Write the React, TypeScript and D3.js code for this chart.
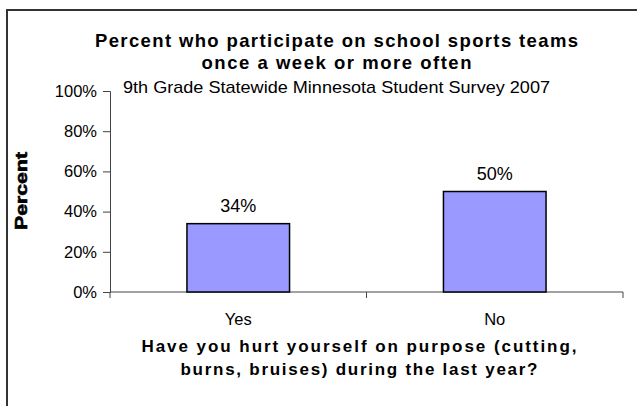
import React, { useRef, useEffect } from 'react';
import * as d3 from 'd3';

const categories = ['Yes', 'No'];
const values = [34, 50];
const valueLabels = ['34%', '50%'];
const yTicks = [0, 20, 40, 60, 80, 100];
const titleLines = ['Percent who participate on school sports teams', 'once a week or more often'];
const subtitle = '9th Grade Statewide Minnesota Student Survey 2007';
const xTitleLines = ['Have you hurt yourself on purpose (cutting,', 'burns, bruises) during the last year?'];
const yTitle = 'Percent';

const W = 637;
const H = 406;
const FONT = '"Liberation Sans", Arial, sans-serif';

export default function App() {
  const svgRef = useRef<SVGSVGElement>(null);

  useEffect(() => {
    const svg = d3.select(svgRef.current);
    svg.selectAll('*').remove();

    const left = 110, right = 623, top = 91, bottom = 292;

    const x = d3.scaleBand<string>()
      .domain(categories)
      .range([left, right])
      .paddingInner(0.6)
      .paddingOuter(0.3);

    const y = d3.scaleLinear().domain([0, 100]).range([bottom, top]);

    // outer frame (runs off the right and bottom edge)
    svg.append('rect')
      .attr('x', 7).attr('y', 10)
      .attr('width', W + 20).attr('height', H + 20)
      .attr('fill', 'white')
      .attr('stroke', '#333')
      .attr('stroke-width', 2);

    // titles
    const tl = [
      { t: titleLines[0], y: 47, len: 483 },
      { t: titleLines[1], y: 69, len: 270 },
    ];
    tl.forEach(d => {
      svg.append('text')
        .attr('x', 336.5).attr('y', d.y)
        .attr('text-anchor', 'middle')
        .attr('font-family', FONT)
        .attr('font-weight', 'bold')
        .attr('font-size', 18.5)
        .attr('textLength', d.len)
        .attr('lengthAdjust', 'spacing')
        .text(d.t);
    });

    svg.append('text')
      .attr('x', 336.5).attr('y', 93)
      .attr('text-anchor', 'middle')
      .attr('font-family', FONT)
      .attr('font-size', 17)
      .attr('textLength', 427)
      .attr('lengthAdjust', 'spacingAndGlyphs')
      .text(subtitle);

    // y axis
    const yAxis = d3.axisLeft(y)
      .tickValues(yTicks)
      .tickSize(7)
      .tickPadding(6)
      .tickFormat(d => `${d}%`);
    const gy = svg.append('g').attr('transform', `translate(${left},0)`).call(yAxis);
    gy.select('.domain').attr('stroke', '#444');
    gy.selectAll('.tick line').attr('stroke', '#444');
    gy.selectAll('.tick text')
      .attr('font-family', FONT)
      .attr('font-size', 16.5)
      .attr('fill', '#000');

    // x axis
    const gx = svg.append('g').attr('transform', `translate(0,${bottom})`);
    gx.append('line')
      .attr('x1', left).attr('x2', right)
      .attr('stroke', '#444');
    const step = x.step();
    const bounds = d3.range(categories.length + 1).map(i => left + i * step);
    gx.selectAll('line.tk')
      .data(bounds)
      .join('line')
      .attr('class', 'tk')
      .attr('x1', d => d).attr('x2', d => d)
      .attr('y1', 0).attr('y2', 6)
      .attr('stroke', '#444');

    gx.selectAll('text')
      .data(categories)
      .join('text')
      .attr('x', d => (x(d) as number) + x.bandwidth() / 2)
      .attr('y', 33)
      .attr('text-anchor', 'middle')
      .attr('font-family', FONT)
      .attr('font-size', 16.5)
      .text(d => d);

    // bars
    svg.selectAll('rect.bar')
      .data(values)
      .join('rect')
      .attr('class', 'bar')
      .attr('x', (d, i) => x(categories[i]) as number)
      .attr('y', d => y(d))
      .attr('width', x.bandwidth())
      .attr('height', d => bottom - y(d))
      .attr('fill', '#9999FF')
      .attr('stroke', '#000')
      .attr('stroke-width', 1.5);

    svg.selectAll('text.val')
      .data(values)
      .join('text')
      .attr('class', 'val')
      .attr('x', (d, i) => (x(categories[i]) as number) + x.bandwidth() / 2)
      .attr('y', d => y(d) - 12)
      .attr('text-anchor', 'middle')
      .attr('font-family', FONT)
      .attr('font-size', 18)
      .text((d, i) => valueLabels[i]);

    // axis titles
    const xt = [
      { t: xTitleLines[0], y: 352, len: 435 },
      { t: xTitleLines[1], y: 375, len: 357 },
    ];
    xt.forEach(d => {
      svg.append('text')
        .attr('x', 359).attr('y', d.y)
        .attr('text-anchor', 'middle')
        .attr('font-family', FONT)
        .attr('font-weight', 'bold')
        .attr('font-size', 17)
        .attr('textLength', d.len)
        .attr('lengthAdjust', 'spacing')
        .text(d.t);
    });

    svg.append('text')
      .attr('transform', `translate(27,191) rotate(-90)`)
      .attr('text-anchor', 'middle')
      .attr('font-family', FONT)
      .attr('font-weight', 'bold')
      .attr('font-size', 16)
      .attr('stroke', '#000')
      .attr('stroke-width', 0.6)
      .attr('textLength', 78)
      .attr('lengthAdjust', 'spacingAndGlyphs')
      .text(yTitle);
  }, []);

  return (
    <svg ref={svgRef} width={W} height={H}
      style={{ position: 'absolute', left: 0, top: 0, display: 'block' }} />
  );
}
